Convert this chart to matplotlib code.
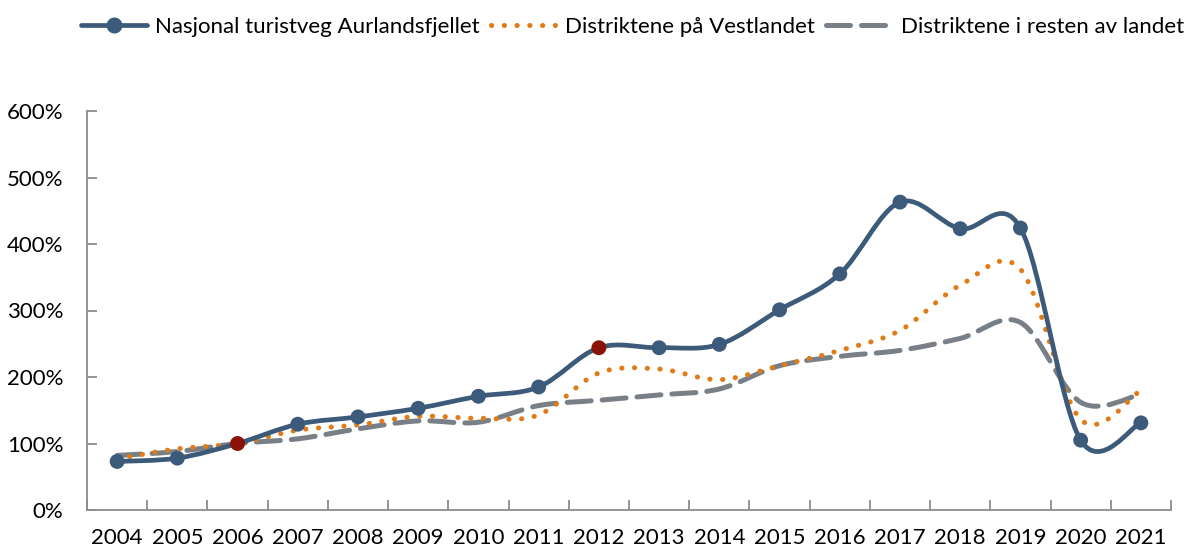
import matplotlib
matplotlib.use("Agg")
import matplotlib.pyplot as plt
import numpy as np
from matplotlib.path import Path
from matplotlib.patches import PathPatch
from matplotlib.lines import Line2D
from matplotlib.ticker import FuncFormatter, FixedLocator

plt.rcParams['font.family'] = ['Lato', 'DejaVu Sans']

years = [str(y) for y in range(2004, 2022)]
aurland = [0.73, 0.78, 1.00, 1.29, 1.40, 1.53, 1.71, 1.85, 2.44, 2.44, 2.49, 3.01, 3.55, 4.63, 4.23, 4.24, 1.05, 1.31]
vestland = [0.77, 0.92, 1.00, 1.20, 1.28, 1.41, 1.38, 1.43, 2.06, 2.12, 1.96, 2.17, 2.40, 2.70, 3.38, 3.62, 1.36, 1.80]
resten = [0.82, 0.88, 1.00, 1.07, 1.22, 1.34, 1.32, 1.57, 1.65, 1.73, 1.82, 2.17, 2.31, 2.40, 2.58, 2.82, 1.62, 1.74]
highlight = ["2006", "2012"]

labels = ["Nasjonal turistveg Aurlandsfjellet", "Distriktene på Vestlandet", "Distriktene i resten av landet"]
c_blue = "#3C5A7A"
c_orange = "#E07B18"
c_gray = "#787F86"
c_red = "#8B1208"


def smooth_path(xs, ys):
    pts = np.column_stack([xs, ys]).astype(float)
    n = len(pts)
    verts = [pts[0]]
    codes = [Path.MOVETO]
    for i in range(n - 1):
        p0 = pts[i - 1] if i > 0 else pts[i]
        p1 = pts[i]
        p2 = pts[i + 1]
        p3 = pts[i + 2] if i + 2 < n else pts[i + 1]
        c1 = p1 + (p2 - p0) / 6.0
        c2 = p2 - (p3 - p1) / 6.0
        verts += [c1, c2, p2]
        codes += [Path.CURVE4] * 3
    return Path(verts, codes)


fig = plt.figure(figsize=(11.84, 5.51), dpi=100)
ax = fig.add_axes([87 / 1184, 1 - 510 / 551, (1171 - 87) / 1184, (510 - 111) / 551])

x = np.arange(len(years))

ax.add_patch(PathPatch(smooth_path(x, resten), fill=False, edgecolor=c_gray, lw=3.6,
                       linestyle=(0, (4.8, 2.2)), capstyle='round', zorder=2))
ax.add_patch(PathPatch(smooth_path(x, vestland), fill=False, edgecolor=c_orange, lw=3.6,
                       linestyle=(0, (0.05, 2.5)), capstyle='round', zorder=3))
ax.add_patch(PathPatch(smooth_path(x, aurland), fill=False, edgecolor=c_blue, lw=3.4,
                       capstyle='round', joinstyle='round', zorder=4))

mcolors = [c_red if y in highlight else c_blue for y in years]
ax.scatter(x, aurland, s=115, c=mcolors, zorder=5, linewidths=0)

ax.set_xlim(-0.5, len(years) - 0.5)
ax.set_ylim(0, 6)
ax.xaxis.set_major_locator(FixedLocator(x))
ax.set_xticklabels(years)
ax.xaxis.set_minor_locator(FixedLocator(np.arange(-0.5, len(years), 1.0)))
ax.tick_params(axis='x', which='major', length=0, pad=13, labelsize=16)
ax.tick_params(axis='x', which='minor', length=7, direction='in', color='#8C8C8C', width=1.3)
ax.yaxis.set_major_locator(FixedLocator(np.arange(0, 6.01, 1)))
ax.yaxis.set_major_formatter(FuncFormatter(lambda v, p: f"{v * 100:.0f}%"))
ax.tick_params(axis='y', length=7, direction='in', color='#8C8C8C', width=1.3, pad=17, labelsize=16)
for s in ['top', 'right']:
    ax.spines[s].set_visible(False)
for s in ['left', 'bottom']:
    ax.spines[s].set_color('#8C8C8C')
    ax.spines[s].set_linewidth(1.3)

handles = [
    Line2D([], [], color=c_blue, lw=3.4, marker='o', markersize=10.5, solid_capstyle='round'),
    Line2D([], [], color=c_orange, lw=3.6, linestyle=(0, (0.05, 2.5)), dash_capstyle='round'),
    Line2D([], [], color=c_gray, lw=3.6, linestyle=(0, (4.8, 2.2)), dash_capstyle='round'),
]
fig.legend(handles, labels, loc='upper center', bbox_to_anchor=(0.534, 1.005), ncol=3, frameon=False,
           fontsize=16, handlelength=3.0, handletextpad=0.35, columnspacing=0.5)

fig.savefig("out.png", dpi=100)
